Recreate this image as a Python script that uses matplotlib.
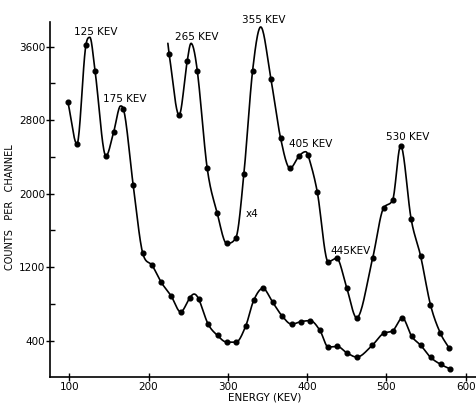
import matplotlib
matplotlib.use('Agg')
import matplotlib.pyplot as plt
import numpy as np

# lower spectrum, measured points
low_e = [98.4, 109.7, 121, 132.6, 146.3, 156, 168.2, 180.7, 192.6, 204.3, 215.8,
         228.5, 240.5, 252.2, 263.4, 275.1, 287, 298.5, 310.3, 322.5, 332.7, 344.2,
         356.6, 368.5, 380.5, 392.8, 404, 416.2, 426.7, 438, 450.6, 462.7, 482.4,
         496.5, 507.9, 520.2, 531.9, 543.6, 555.8, 568.4, 580.2]
low_c = [2995, 2541, 3618, 3332, 2411, 2672, 2925, 2091, 1355, 1222, 1038,
         887, 714, 870, 851, 582, 457, 385, 384, 558, 840, 970,
         818, 669, 580, 609, 618, 512, 331, 338, 265, 222, 352,
         481, 508, 647, 448, 348, 219, 143, 94]
# peak tops the pen passes through without a point
low_pk_e = [126, 164.8, 257.5]
low_pk_c = [3702, 2955, 908]

# x4 spectrum
up_e = [226, 238.5, 248.7, 261.5, 274, 286.7, 298.5, 310.3, 320.3, 331.3, 354.3,
        366.6, 378.5, 389.5, 401.4, 412.8, 426.6, 437.3, 449.9, 462.5, 482.6,
        496.5, 507.9, 518, 531.3, 543.3, 555.6, 568, 579.4]
up_c = [3519, 2855, 3440, 3339, 2277, 1787, 1460, 1523, 2218, 3341, 3252,
        2603, 2277, 2406, 2416, 2022, 1260, 1297, 977, 650, 1295,
        1845, 1931, 2523, 1721, 1318, 792, 484, 317]
up_pk_e = [224.4, 253.6, 341.5, 398]
up_pk_c = [3637, 3637, 3815, 2457]

# peak labels
lab_txt = ['125 KEV', '175 KEV', '265 KEV', '355 KEV', '405 KEV', '530 KEV', '445KEV', 'x4']
lab_e = [133.7, 170.4, 261, 345.6, 404.9, 527.2, 455.1, 330.4]
lab_c = [3760, 3031, 3706, 3891, 2541, 2617, 1376, 1777]

xticks = [100, 200, 300, 400, 500, 600]
yticks = [400, 1200, 2000, 2800, 3600]
yminor = [800, 1600, 2400, 3200]


def smooth(xs, ys, n=20):
    # cubic hermite through the knots, flat at turning points
    o = np.argsort(xs)
    x = np.asarray(xs, float)[o]
    y = np.asarray(ys, float)[o]
    h = np.diff(x)
    d = np.diff(y) / h
    m = np.zeros_like(x)
    m[0] = d[0]
    m[-1] = d[-1]
    for i in range(1, len(x) - 1):
        if d[i - 1] * d[i] > 0:
            m[i] = (y[i + 1] - y[i - 1]) / (x[i + 1] - x[i - 1])
    for i in range(len(d)):
        if d[i] == 0:
            m[i] = m[i + 1] = 0
            continue
        a, b = m[i] / d[i], m[i + 1] / d[i]
        s = a * a + b * b
        if s > 9:
            t = 3 / np.sqrt(s)
            m[i] = t * a * d[i]
            m[i + 1] = t * b * d[i]
    xo, yo = [], []
    for i in range(len(h)):
        t = np.linspace(0, 1, n, endpoint=False)
        h00 = 2 * t**3 - 3 * t**2 + 1
        h10 = t**3 - 2 * t**2 + t
        h01 = -2 * t**3 + 3 * t**2
        h11 = t**3 - t**2
        xo.extend(x[i] + t * h[i])
        yo.extend(h00 * y[i] + h10 * h[i] * m[i] + h01 * y[i + 1] + h11 * h[i] * m[i + 1])
    xo.append(x[-1])
    yo.append(y[-1])
    return np.array(xo), np.array(yo)


fig = plt.figure(figsize=(4.77, 4.03), dpi=100)
ax = fig.add_axes([0.1048, 0.0645, 0.893, 0.8816])

for e, c, pe, pc in [(low_e, low_c, low_pk_e, low_pk_c), (up_e, up_c, up_pk_e, up_pk_c)]:
    sx, sy = smooth(e + pe, c + pc)
    ax.plot(sx, sy, color='black', lw=1.2, solid_capstyle='round')
    ax.plot(e, c, 'o', color='black', ms=3.4)

for t, e, c in zip(lab_txt, lab_e, lab_c):
    ax.text(e, c, t, ha='center', va='center', fontsize=7.5, family='DejaVu Sans')

ax.set_xlim(75.7, 613)
ax.set_ylim(5, 3872)
ax.set_xticks(xticks)
ax.set_yticks(yticks)
ax.set_yticks(yminor, minor=True)
ax.tick_params(axis='both', which='major', direction='inout', length=6, width=1,
               labelsize=7.5, pad=0.5)
ax.tick_params(axis='y', which='minor', direction='in', length=3.5, width=1)
for s in ['top', 'right']:
    ax.spines[s].set_visible(False)
for s in ['left', 'bottom']:
    ax.spines[s].set_linewidth(1.2)

fig.text(10 / 477, 1 - 207 / 403, 'COUNTS   PER   CHANNEL', rotation=90,
         ha='center', va='center', fontsize=7)
fig.text(265 / 477, 1 - 397 / 403, 'ENERGY (KEV)', ha='center', va='center', fontsize=7.5)

fig.savefig('out.png', dpi=100)
